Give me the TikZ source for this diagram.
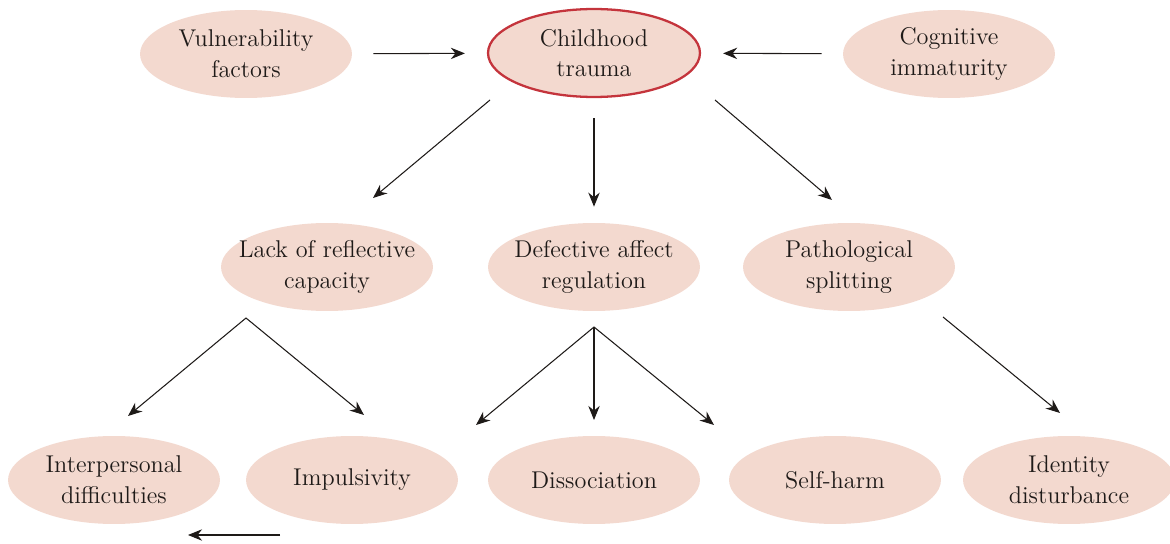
\documentclass[tikz,border=0pt]{standalone}
\usetikzlibrary{arrows.meta,shapes.geometric}
\definecolor{blush}{HTML}{F3D9CF}
\definecolor{traumared}{HTML}{C4343C}
\definecolor{ink}{HTML}{1E1A18}
\tikzset{
  bubble/.style={ellipse, fill=blush, minimum width=4.24cm, minimum height=1.76cm,
    inner xsep=-12pt, inner ysep=0pt, align=center, text=ink,
    font=\fontsize{13.8}{17.5}\selectfont},
  link/.style={draw=ink, line width=0.6pt, arrows={-Stealth[length=8pt,width=6.5pt]}}
}
\begin{document}
\begin{tikzpicture}[x=0.02cm, y=-0.02cm]
\useasboundingbox (0,0) rectangle (1170,544);

% top row
\node [bubble] (vuln) at (246,54) {Vulnerability\\factors};
\node [bubble, draw=traumared, line width=1.3pt] (trauma) at (594,53) {Childhood\\trauma};
\node [bubble] (cogn) at (949,54) {Cognitive\\immaturity};

% middle row
\node [bubble] (lack) at (327,267) {Lack of reflective\\capacity};
\node [bubble] (affect) at (594,267) {Defective affect\\regulation};
\node [bubble] (split) at (849,267) {Pathological\\splitting};

% bottom row
\node [bubble] (inter) at (114,480) {Interpersonal\\difficulties};
\node [bubble] (impuls) at (352,480) {Impulsivity};
\node [bubble] (dissoc) at (594,480) {Dissociation};
\node [bubble] (harm) at (835,480) {Self-harm};
\node [bubble] (ident) at (1069,480) {Identity\\disturbance};

% arrow ends
\coordinate (trauma-l) at (490,100);
\coordinate (trauma-r) at (715,100);
\coordinate (lack-in) at (373,198);
\coordinate (split-in) at (832,200);
\coordinate (lack-fork) at (246,318);
\coordinate (affect-fork) at (594,327);
\coordinate (split-out) at (943,317);
\coordinate (inter-in) at (128,416);
\coordinate (impuls-in) at (364,415);
\coordinate (dissoc-l) at (476,425);
\coordinate (dissoc-in) at (594,420);
\coordinate (harm-in) at (714,425);
\coordinate (ident-in) at (1060,413);
\coordinate (impuls-out) at (280,535);
\coordinate (inter-out) at (188,535);

\draw [link, shorten <=0.42cm, shorten >=0.44cm] (vuln) -- (trauma);
\draw [link, shorten <=0.42cm, shorten >=0.44cm] (cogn) -- (trauma);
\draw [link] (trauma-l) -- (lack-in);
\draw [link, shorten <=0.4cm, shorten >=0.32cm] (trauma) -- (affect);
\draw [link] (trauma-r) -- (split-in);
\draw [link] (lack-fork) -- (inter-in);
\draw [link] (lack-fork) -- (impuls-in);
\draw [link] (affect-fork) -- (dissoc-l);
\draw [link] (affect-fork) -- (dissoc-in);
\draw [link] (affect-fork) -- (harm-in);
\draw [link] (split-out) -- (ident-in);
\draw [link] (impuls-out) -- (inter-out);
\end{tikzpicture}
\end{document}
